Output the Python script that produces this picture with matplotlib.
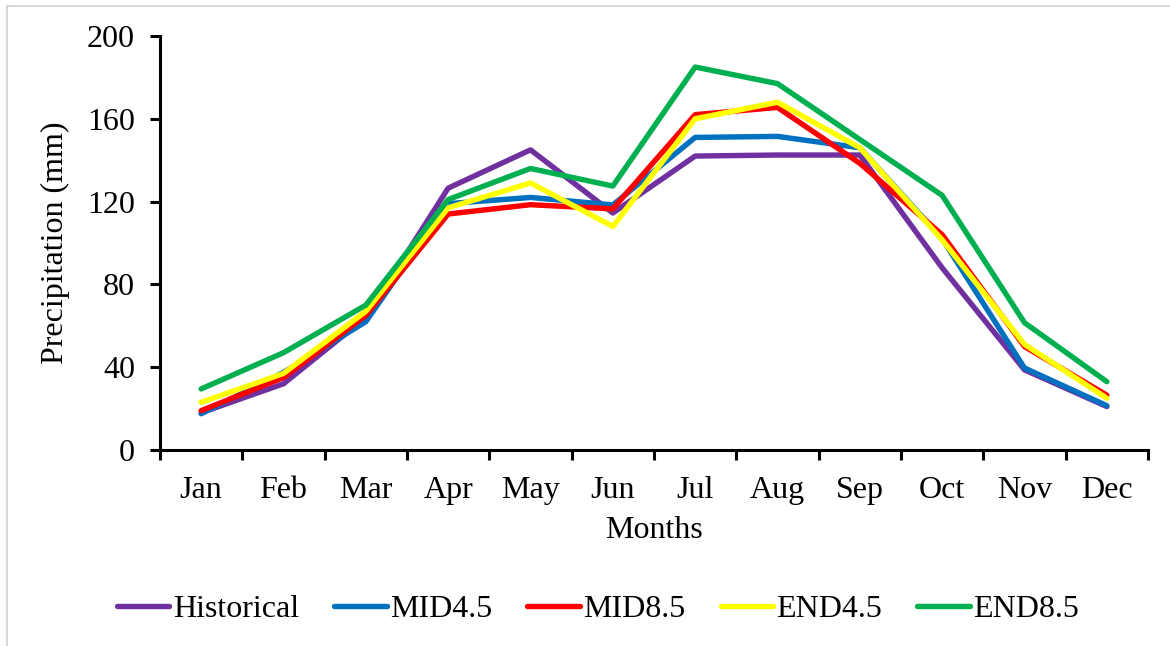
import matplotlib

matplotlib.use("Agg", force=True)
import matplotlib.pyplot as plt
from matplotlib.lines import Line2D

months = ["Jan", "Feb", "Mar", "Apr", "May", "Jun", "Jul", "Aug", "Sep", "Oct", "Nov", "Dec"]
historical = [18, 32, 64, 126.5, 145, 114.5, 142, 142.5, 142.5, 88, 38.7, 21]
mid45 = [17.5, 37.5, 62, 119, 122, 118.4, 151, 151.5, 146, 102, 39.6, 21.4]
mid85 = [19, 35, 65, 114, 118.5, 116.5, 162, 165.5, 138.5, 104, 50, 26.5]
end45 = [23, 37, 67, 117, 129, 108, 160, 168, 146, 101.5, 51, 25]
end85 = [29.5, 47, 70, 121, 136, 127.5, 185, 177, 150, 123, 61.5, 33]

series = [
    ("Historical", historical, "#7030A0"),
    ("MID4.5", mid45, "#0070C0"),
    ("MID8.5", mid85, "#FF0000"),
    ("END4.5", end45, "#FFFF00"),
    ("END8.5", end85, "#00B050"),
]

plt.rcParams.update({
    "font.family": ["Liberation Serif", "DejaVu Serif"],
    "font.size": 23,
})

fig = plt.figure(figsize=(11.7, 6.46), dpi=100)
ax = fig.add_axes([160 / 1170, 1 - 450 / 646, (1148 - 160) / 1170, (450 - 36) / 646])

x = list(range(len(months)))
for label, values, color in series:
    ax.plot(x, values, color=color, linewidth=3.9, label=label, solid_capstyle="round")

ax.set_xlim(-0.5, len(months) - 0.5)
ax.set_ylim(0, 200)
ax.set_yticks([0, 40, 80, 120, 160, 200])
ax.set_xticks(x)
ax.set_xticklabels(months)
ax.set_xticks([i - 0.5 for i in range(len(months) + 1)], minor=True)
ax.tick_params(axis="x", which="major", length=0, pad=19)
ax.tick_params(axis="x", which="minor", length=7, width=2.2, direction="out")
ax.tick_params(axis="y", length=7, width=2.2, direction="out", pad=11)

for side in ("top", "right"):
    ax.spines[side].set_visible(False)
for side in ("left", "bottom"):
    ax.spines[side].set_linewidth(2.2)

ax.set_xlabel("Months", labelpad=8)
ax.set_ylabel("Precipitation (mm)", labelpad=12)

fig.legend(
    loc="center",
    bbox_to_anchor=(598 / 1170, 1 - 609 / 646),
    ncol=5,
    frameon=False,
    handlelength=1.65,
    handletextpad=0.1,
    columnspacing=1.1,
)

# light chart-area border (top and left edges visible)
fig.add_artist(Line2D([7 / 1170, 1], [1 - 6 / 646, 1 - 6 / 646], color="#d9d9d9", linewidth=1.5))
fig.add_artist(Line2D([7 / 1170, 7 / 1170], [0, 1 - 6 / 646], color="#d9d9d9", linewidth=1.5))

fig.savefig("out.png", dpi=100)
